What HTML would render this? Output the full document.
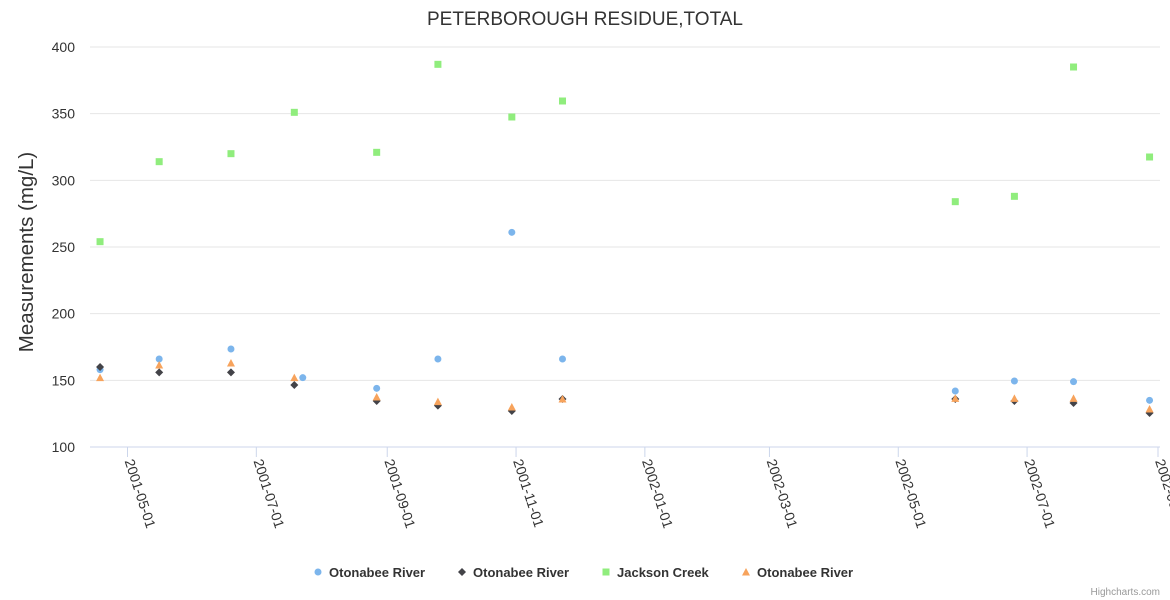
<!DOCTYPE html>
<html><head><meta charset="utf-8">
<style>
body{margin:0;background:#fff;font-family:"Liberation Sans",sans-serif;}
svg{display:block}
</style></head>
<body>
<svg id="chart" width="1170" height="600" xmlns="http://www.w3.org/2000/svg">
<text x="585" y="25" text-anchor="middle" font-size="19" fill="#333">PETERBOROUGH RESIDUE,TOTAL</text>
<text transform="translate(33,252) rotate(-90)" text-anchor="middle" font-size="20.5" fill="#333">Measurements (mg/L)</text>
<g id="grid"></g><g id="xaxis"></g><g id="marks"></g><g id="legend"></g>
<text x="1160" y="595" text-anchor="end" font-size="10" fill="#999">Highcharts.com</text>
</svg>
<script>
const dates=["2001-04-18","2001-05-16","2001-06-19","2001-07-19","2001-08-27","2001-09-25","2001-10-30","2001-11-23","2002-05-28","2002-06-25","2002-07-23","2002-08-28"];
const blueDates=["2001-04-18","2001-05-16","2001-06-19","2001-07-23","2001-08-27","2001-09-25","2001-10-30","2001-11-23","2002-05-28","2002-06-25","2002-07-23","2002-08-28"];
const otonabeeA=[158,166,173.5,152,144,166,261,166,142,149.5,149,135];
const otonabeeB=[160,156,156,146.5,134.5,131,127,136,136,134.5,133,125.5];
const jackson=[254,314,320,351,321,387,347.5,359.5,284,288,385,317.5];
const otonabeeC=[152,161.5,163,152,137.5,134,130,136,136.5,136.5,136.5,128.5];
const yTicks=[100,150,200,250,300,350,400];
const xTicks=["2001-05-01","2001-07-01","2001-09-01","2001-11-01","2002-01-01","2002-03-01","2002-05-01","2002-07-01","2002-09-01"];
const NS="http://www.w3.org/2000/svg";
const d0=Date.parse("2001-05-01"),d1=Date.parse("2002-09-01");
function X(s){return 127.5+(Date.parse(s)-d0)/(d1-d0)*1030.5;}
function Y(v){return 447-(v-100)*400/300;}
function mk(tag,a,p){const e=document.createElementNS(NS,tag);for(const k in a)e.setAttribute(k,a[k]);p.appendChild(e);return e;}
const grid=document.getElementById('grid');
yTicks.forEach(v=>{
  const l=mk('line',{x1:90,x2:1160,y1:Y(v),y2:Y(v),stroke:v===100?'#ccd6eb':'#e6e6e6'},grid);
  
  
  const t=mk('text',{x:75,y:Y(v)+5,'text-anchor':'end','font-size':14,fill:'#333'},grid);
  t.textContent=v;
  
  
});
const xa=document.getElementById('xaxis');
xTicks.forEach(s=>{
  const x=X(s);
  const l=mk('line',{x1:x,x2:x,y1:447,y2:457,stroke:'#ccd6eb'},xa);
  
  
  const t=mk('text',{transform:`translate(${x-3},461) rotate(72)`,'font-size':14,fill:'#333'},xa);
  t.textContent=s;
  
  
});
const marks=document.getElementById('marks');
function sym(type,x,y,c,p){
  let e;
  if(type==='circle')e=mk('circle',{cx:x,cy:y,r:3.5,fill:c},p);
  else if(type==='diamond')e=mk('path',{d:`M${x} ${y-4}L${x+4} ${y}L${x} ${y+4}L${x-4} ${y}Z`,fill:c},p);
  else if(type==='square')e=mk('rect',{x:x-3.5,y:y-3.5,width:7,height:7,fill:c},p);
  else e=mk('path',{d:`M${x} ${y-4}L${x+4} ${y+3.5}L${x-4} ${y+3.5}Z`,fill:c},p);
  return e;
}
const series=[
 {name:'Otonabee River',vals:otonabeeA,d:blueDates,c:'#7cb5ec',s:'circle'},
 {name:'Otonabee River',vals:otonabeeB,d:dates,c:'#434348',s:'diamond'},
 {name:'Jackson Creek',vals:jackson,d:dates,c:'#90ed7d',s:'square'},
 {name:'Otonabee River',vals:otonabeeC,d:dates,c:'#f7a35c',s:'triangle'}];
series.forEach((se,i)=>{
  se.vals.forEach((v,j)=>{
    const e=sym(se.s,X(se.d[j]),Y(v),se.c,marks);
    
    
  });
});
const lg=document.getElementById('legend');
const lx=[318,462,606,746];
series.forEach((se,i)=>{
  const g=mk('g',{},lg);
  
  
  sym(se.s,lx[i],572,se.c,g);
  const t=mk('text',{x:lx[i]+11,y:577,'font-size':13,'font-weight':'bold',fill:'#333'},g);
  t.textContent=se.name;
});
</script>
</body></html>
